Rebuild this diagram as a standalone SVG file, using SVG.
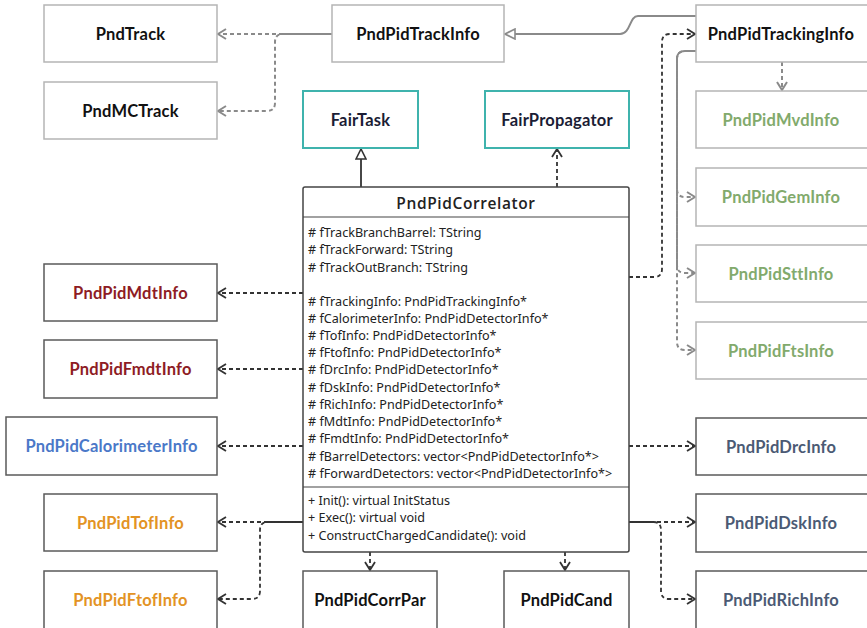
<svg xmlns="http://www.w3.org/2000/svg" width="867" height="628" viewBox="0 0 867 628">
<style>
.box{fill:#fff;stroke-width:1.5}
.lt{stroke:#b5b5b5}
.dk{stroke:#5a5a5a}
.teal{stroke:#3fb3ad;stroke-width:2}
.lbl{font-family:Lato,"Noto Sans",sans-serif;font-weight:bold;font-size:16.5px;text-anchor:middle;dominant-baseline:central;letter-spacing:0.2px}
.blk{fill:#111}
.red{fill:#8e1c24}
.blue{fill:#4a78c8}
.org{fill:#e39324}
.grn{fill:#82aa6c}
.sl{fill:#4b5a74}
.navy{fill:#1b1d35}
.cls{font-family:"Noto Sans",sans-serif;font-size:12.6px;fill:#222;dominant-baseline:central}
.hdr{font-family:"Open Sans","Noto Sans",sans-serif;font-size:15.5px;font-weight:600;fill:#222;text-anchor:middle;dominant-baseline:central;letter-spacing:0.6px}
.cg{fill:none;stroke:#8a8a8a;stroke-width:2}
.cd{fill:none;stroke:#333;stroke-width:1.8}
.dash{stroke-dasharray:4 3}
</style>
<defs>
<marker id="vg" viewBox="0 0 10 12" refX="9" refY="6" markerWidth="10" markerHeight="12" markerUnits="userSpaceOnUse" orient="auto">
<path d="M1,1 L9,6 L1,11" fill="none" stroke="#8a8a8a" stroke-width="2"/>
</marker>
<marker id="vd" viewBox="0 0 10 12" refX="9" refY="6" markerWidth="10" markerHeight="12" markerUnits="userSpaceOnUse" orient="auto">
<path d="M1,1 L9,6 L1,11" fill="none" stroke="#333" stroke-width="1.8"/>
</marker>
<marker id="tg" viewBox="0 0 12 12" refX="11" refY="6" markerWidth="12" markerHeight="12" markerUnits="userSpaceOnUse" orient="auto">
<path d="M1,1 L11,6 L1,11 Z" fill="#fff" stroke="#8a8a8a" stroke-width="1.6"/>
</marker>
<marker id="td" viewBox="0 0 12 12" refX="11" refY="6" markerWidth="12" markerHeight="12" markerUnits="userSpaceOnUse" orient="auto">
<path d="M1,1 L11,6 L1,11 Z" fill="#fff" stroke="#333" stroke-width="1.6"/>
</marker>
</defs>
<rect width="867" height="628" fill="#fff"/>

<g id="connectors">
<path class="cg dash" d="M332,34 H218" marker-end="url(#vg)"/>
<path class="cg dash" style="stroke-dashoffset:3.5" d="M332,34 H283 Q275,34 275,42 V103 Q275,111 267,111 H218" marker-end="url(#vg)"/>
<path class="cg" d="M696,16 H638 C629,16 631,34 620,34 H505" marker-end="url(#tg)"/>
<path class="cg dash" d="M782,62 V90" marker-end="url(#vg)"/>
<path class="cg dash" d="M696,51 H685 Q677,51 677,59 V189 Q677,197 685,197 H695" marker-end="url(#vg)"/>
<path class="cg dash" style="stroke-dashoffset:3.5" d="M696,51 H685 Q677,51 677,59 V265 Q677,273 685,273 H695" marker-end="url(#vg)"/>
<path class="cg dash" d="M696,51 H685 Q677,51 677,59 V342 Q677,350 685,350 H695" marker-end="url(#vg)"/>
<path class="cd dash" d="M629,277 H654 Q662,277 662,269 V42 Q662,34 670,34 H695" marker-end="url(#vd)"/>
<path class="cd" d="M361,187 V149" marker-end="url(#td)"/>
<path class="cd dash" d="M557,187 V149" marker-end="url(#vd)"/>
<path class="cd dash" d="M303,293 H218" marker-end="url(#vd)"/>
<path class="cd dash" d="M303,369 H218" marker-end="url(#vd)"/>
<path class="cd dash" d="M303,446 H218" marker-end="url(#vd)"/>
<path class="cd dash" d="M303,522 H218" marker-end="url(#vd)"/>
<path class="cd dash" style="stroke-dashoffset:3.5" d="M303,522 H268 Q260,522 260,530 V591 Q260,599 252,599 H218" marker-end="url(#vd)"/>
<path class="cd dash" d="M629,446 H695" marker-end="url(#vd)"/>
<path class="cd dash" d="M629,522 H695" marker-end="url(#vd)"/>
<path class="cd dash" style="stroke-dashoffset:3.5" d="M629,522 H653 Q661,522 661,530 V591 Q661,599 669,599 H695" marker-end="url(#vd)"/>
<path class="cd dash" d="M370,552 V570" marker-end="url(#vd)"/>
<path class="cd dash" d="M565,552 V570" marker-end="url(#vd)"/>
</g>

<g id="PndTrack"><rect class="box lt" x="44" y="5" width="173" height="57"/><text class="lbl blk" x="130.5" y="33.5">PndTrack</text></g>
<g id="PndMCTrack"><rect class="box lt" x="44" y="82" width="173" height="57"/><text class="lbl blk" x="130.5" y="110.5">PndMCTrack</text></g>
<g id="PndPidTrackInfo"><rect class="box lt" x="332" y="5" width="172" height="57"/><text class="lbl blk" x="418" y="33.5">PndPidTrackInfo</text></g>
<g id="PndPidTrackingInfo"><rect class="box lt" x="696" y="5" width="172" height="57"/><text class="lbl blk" x="781" y="33.5">PndPidTrackingInfo</text></g>
<g id="FairTask"><rect class="box teal" x="303" y="91" width="115" height="57"/><text class="lbl navy" x="360.5" y="119.5">FairTask</text></g>
<g id="FairPropagator"><rect class="box teal" x="485" y="91" width="144" height="57"/><text class="lbl navy" x="557" y="119.5">FairPropagator</text></g>
<g id="PndPidMvdInfo"><rect class="box lt" x="696" y="91" width="172" height="57"/><text class="lbl grn" x="781" y="119.5">PndPidMvdInfo</text></g>
<g id="PndPidGemInfo"><rect class="box lt" x="696" y="168" width="172" height="58"/><text class="lbl grn" x="781" y="197">PndPidGemInfo</text></g>
<g id="PndPidSttInfo"><rect class="box lt" x="696" y="245" width="172" height="57"/><text class="lbl grn" x="781" y="273.5">PndPidSttInfo</text></g>
<g id="PndPidFtsInfo"><rect class="box lt" x="696" y="322" width="172" height="57"/><text class="lbl grn" x="781" y="350.5">PndPidFtsInfo</text></g>

<g id="PndPidCorrelator">
<rect x="303" y="187" width="326" height="365" rx="2" fill="#fff" stroke="#444" stroke-width="1.5"/>
<line x1="303" y1="217" x2="629" y2="217" stroke="#444" stroke-width="1.2"/>
<line x1="303" y1="487" x2="629" y2="487" stroke="#444" stroke-width="1.2"/>
<text class="hdr" x="466" y="203">PndPidCorrelator</text>
<text class="cls" x="308" y="232"># fTrackBranchBarrel: TString</text>
<text class="cls" x="308" y="249"># fTrackForward: TString</text>
<text class="cls" x="308" y="267"># fTrackOutBranch: TString</text>
<text class="cls" x="308" y="301"># fTrackingInfo: PndPidTrackingInfo*</text>
<text class="cls" x="308" y="318"># fCalorimeterInfo: PndPidDetectorInfo*</text>
<text class="cls" x="308" y="335"># fTofInfo: PndPidDetectorInfo*</text>
<text class="cls" x="308" y="352"># fFtofInfo: PndPidDetectorInfo*</text>
<text class="cls" x="308" y="369"># fDrcInfo: PndPidDetectorInfo*</text>
<text class="cls" x="308" y="387"># fDskInfo: PndPidDetectorInfo*</text>
<text class="cls" x="308" y="404"># fRichInfo: PndPidDetectorInfo*</text>
<text class="cls" x="308" y="421"># fMdtInfo: PndPidDetectorInfo*</text>
<text class="cls" x="308" y="438"># fFmdtInfo: PndPidDetectorInfo*</text>
<text class="cls" x="308" y="456"># fBarrelDetectors: vector&lt;PndPidDetectorInfo*&gt;</text>
<text class="cls" x="308" y="473"># fForwardDetectors: vector&lt;PndPidDetectorInfo*&gt;</text>
<text class="cls" x="308" y="500">+ Init(): virtual InitStatus</text>
<text class="cls" x="308" y="517">+ Exec(): virtual void</text>
<text class="cls" x="308" y="535">+ ConstructChargedCandidate(): void</text>
</g>

<g id="PndPidMdtInfo"><rect class="box dk" x="44" y="264" width="173" height="57"/><text class="lbl red" x="130.5" y="292.5">PndPidMdtInfo</text></g>
<g id="PndPidFmdtInfo"><rect class="box dk" x="44" y="340" width="173" height="58"/><text class="lbl red" x="130.5" y="369">PndPidFmdtInfo</text></g>
<g id="PndPidCalorimeterInfo"><rect class="box dk" x="6" y="417" width="211" height="58"/><text class="lbl blue" x="111.5" y="446">PndPidCalorimeterInfo</text></g>
<g id="PndPidTofInfo"><rect class="box dk" x="44" y="494" width="173" height="57"/><text class="lbl org" x="130.5" y="522.5">PndPidTofInfo</text></g>
<g id="PndPidFtofInfo"><rect class="box dk" x="44" y="571" width="173" height="58"/><text class="lbl org" x="130.5" y="599.5">PndPidFtofInfo</text></g>
<g id="PndPidCorrPar"><rect class="box dk" x="303" y="571" width="134" height="58"/><text class="lbl blk" x="370" y="599.5">PndPidCorrPar</text></g>
<g id="PndPidCand"><rect class="box dk" x="504" y="571" width="125" height="58"/><text class="lbl blk" x="566.5" y="599.5">PndPidCand</text></g>
<g id="PndPidDrcInfo"><rect class="box dk" x="696" y="418" width="172" height="57"/><text class="lbl sl" x="781" y="446.5">PndPidDrcInfo</text></g>
<g id="PndPidDskInfo"><rect class="box dk" x="696" y="494" width="172" height="58"/><text class="lbl sl" x="781" y="523">PndPidDskInfo</text></g>
<g id="PndPidRichInfo"><rect class="box dk" x="696" y="571" width="172" height="58"/><text class="lbl sl" x="781" y="599.5">PndPidRichInfo</text></g>
</svg>
